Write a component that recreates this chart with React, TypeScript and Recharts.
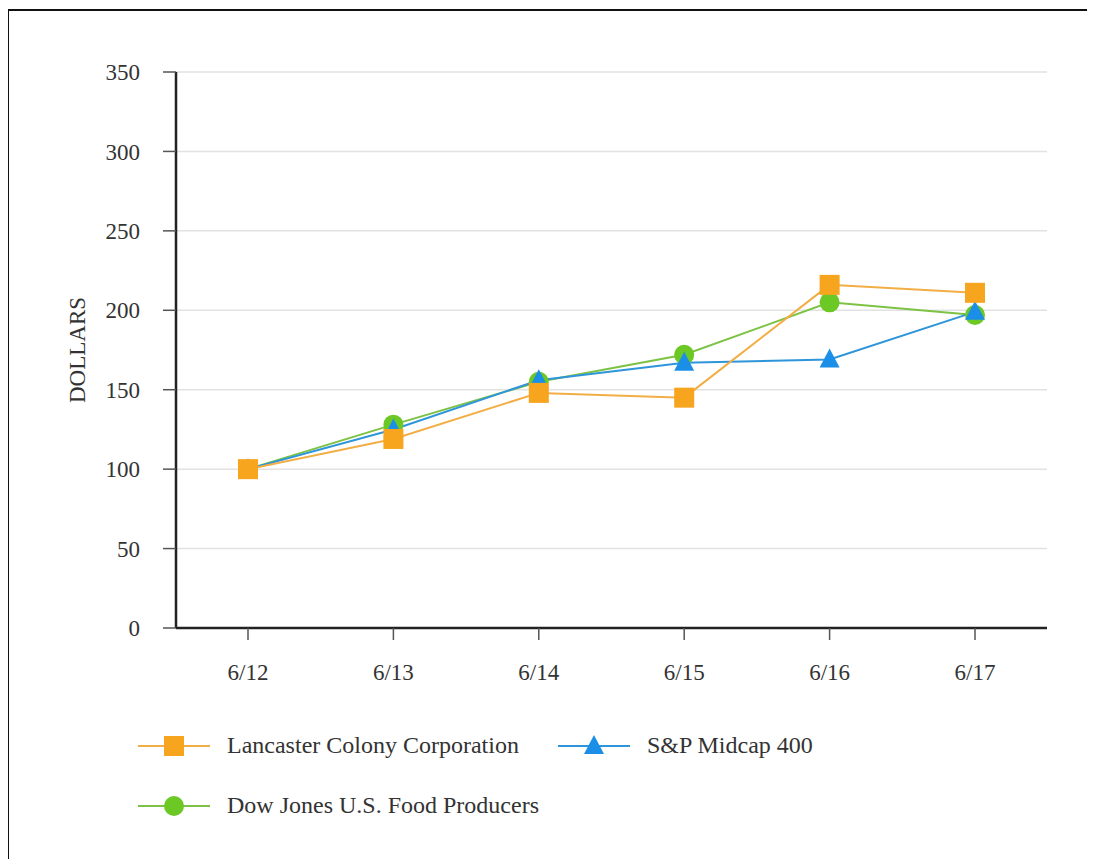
import React from 'react';
import { LineChart, Line, XAxis, YAxis, CartesianGrid, Legend, Label } from 'recharts';

const categories = ['6/12', '6/13', '6/14', '6/15', '6/16', '6/17'];
const lancaster = [100, 119, 148, 145, 216, 211];
const spMidcap = [100, 125, 156, 167, 169, 199];
const dowJones = [100, 128, 155, 172, 205, 197];
const yTicks = [0, 50, 100, 150, 200, 250, 300, 350];

const seriesNames = {
  lancaster: 'Lancaster Colony Corporation',
  sp: 'S&P Midcap 400',
  dow: 'Dow Jones U.S. Food Producers',
};

const ORANGE = '#F7A51E';
const ORANGE_LINE = '#F2AE45';
const BLUE = '#1B8FE8';
const BLUE_LINE = '#2F95DA';
const GREEN = '#6CC825';
const GREEN_LINE = '#7CC245';

const data = categories.map((c, i) => ({
  name: c,
  lancaster: lancaster[i],
  sp: spMidcap[i],
  dow: dowJones[i],
}));

const FONT = '"Liberation Serif", "Times New Roman", serif';

const SquareDot = (props: any) => {
  const { cx, cy } = props;
  if (cx == null || cy == null) return null;
  return <rect x={cx - 10} y={cy - 10} width={20} height={20} fill={ORANGE} />;
};
const TriangleDot = (props: any) => {
  const { cx, cy } = props;
  if (cx == null || cy == null) return null;
  return <polygon points={`${cx},${cy - 11} ${cx - 10},${cy + 8} ${cx + 10},${cy + 8}`} fill={BLUE} />;
};
const CircleDot = (props: any) => {
  const { cx, cy } = props;
  if (cx == null || cy == null) return null;
  return <circle cx={cx} cy={cy} r={10} fill={GREEN} />;
};

const LegendIcon = ({ kind }: { kind: string }) => {
  const color = kind === 'sq' ? ORANGE : kind === 'tri' ? BLUE : GREEN;
  const line = kind === 'sq' ? ORANGE_LINE : kind === 'tri' ? BLUE_LINE : GREEN_LINE;
  return (
    <svg width={74} height={24} style={{ position: 'absolute', left: 0, top: -12 }}>
      <line x1={0} y1={12} x2={72} y2={12} stroke={line} strokeWidth={2} />
      {kind === 'sq' && <rect x={26} y={2} width={20} height={20} fill={color} />}
      {kind === 'tri' && <polygon points="36,1 26,20 46,20" fill={color} />}
      {kind === 'ci' && <circle cx={36} cy={12} r={10} fill={color} />}
    </svg>
  );
};

const legendItems = [
  { label: seriesNames.lancaster, kind: 'sq', left: 128, top: 36 },
  { label: seriesNames.sp, kind: 'tri', left: 548, top: 36 },
  { label: seriesNames.dow, kind: 'ci', left: 128, top: 96 },
];

const CustomLegend = () => (
  <div style={{ position: 'relative', width: 900, height: 140, fontFamily: FONT }}>
    {legendItems.map((it) => (
      <div key={it.label} style={{ position: 'absolute', left: it.left, top: it.top }}>
        <LegendIcon kind={it.kind} />
        <span
          style={{
            position: 'absolute',
            left: 89,
            top: -15,
            whiteSpace: 'nowrap',
            fontSize: 24,
            lineHeight: '28px',
            color: '#333',
          }}
        >
          {it.label}
        </span>
      </div>
    ))}
  </div>
);

const YLabel = (props: any) => {
  const vb = props.viewBox || {};
  const x = 67;
  const y = (vb.y || 0) + (vb.height || 0) / 2;
  return (
    <text
      x={x}
      y={y}
      transform={`rotate(-90, ${x}, ${y})`}
      textAnchor="middle"
      dominantBaseline="central"
      fontFamily={FONT}
      fontSize={23}
      fill="#333"
    >
      DOLLARS
    </text>
  );
};

export default function App() {
  return (
    <div
      style={{
        position: 'relative',
        marginLeft: -8,
        marginTop: -8,
        marginBottom: -8,
        width: 1095,
        height: 867,
        background: '#fff',
        overflow: 'hidden',
      }}
    >
      <style>{'html, body { overflow: hidden; }'}</style>
      <div
        style={{
          position: 'absolute',
          left: 7,
          top: 9,
          width: 1100,
          height: 900,
          borderTop: '2px solid #111',
          borderLeft: '2px solid #111',
          boxSizing: 'border-box',
        }}
      />
      <div style={{ position: 'absolute', left: 10, top: 10 }}>
        <LineChart
          width={1077}
          height={843}
          data={data}
          margin={{ top: 62, right: 40, bottom: 165, left: 0 }}
        >
          <CartesianGrid vertical={false} stroke="#e2e2e2" strokeWidth={1.5} />
          <XAxis
            dataKey="name"
            padding={{ left: 72, right: 72 }}
            height={60}
            tickSize={12}
            tickMargin={24}
            axisLine={{ stroke: '#222', strokeWidth: 2.5 }}
            tickLine={{ stroke: '#555', strokeWidth: 1.5 }}
            tick={{ fill: '#333', fontSize: 23, fontFamily: FONT }}
          />
          <YAxis
            domain={[0, 350]}
            ticks={yTicks}
            width={166}
            tickSize={13}
            tickMargin={23}
            axisLine={{ stroke: '#222', strokeWidth: 2.5 }}
            tickLine={{ stroke: '#555', strokeWidth: 1.5 }}
            tick={{ fill: '#333', fontSize: 23, fontFamily: FONT }}
          >
            <Label content={<YLabel />} />
          </YAxis>
          <Legend
            layout="horizontal"
            verticalAlign="middle"
            align="center"
            content={<CustomLegend />}
            wrapperStyle={{ position: 'absolute', left: 0, top: 700, width: 900, height: 140 }}
          />
          <Line
            dataKey="dow"
            name={seriesNames.dow}
            stroke={GREEN_LINE}
            strokeWidth={2}
            dot={<CircleDot />}
            activeDot={false}
            isAnimationActive={false}
          />
          <Line
            dataKey="sp"
            name={seriesNames.sp}
            stroke={BLUE_LINE}
            strokeWidth={2}
            dot={<TriangleDot />}
            activeDot={false}
            isAnimationActive={false}
          />
          <Line
            dataKey="lancaster"
            name={seriesNames.lancaster}
            stroke={ORANGE_LINE}
            strokeWidth={2}
            dot={<SquareDot />}
            activeDot={false}
            isAnimationActive={false}
          />
        </LineChart>
      </div>
    </div>
  );
}
